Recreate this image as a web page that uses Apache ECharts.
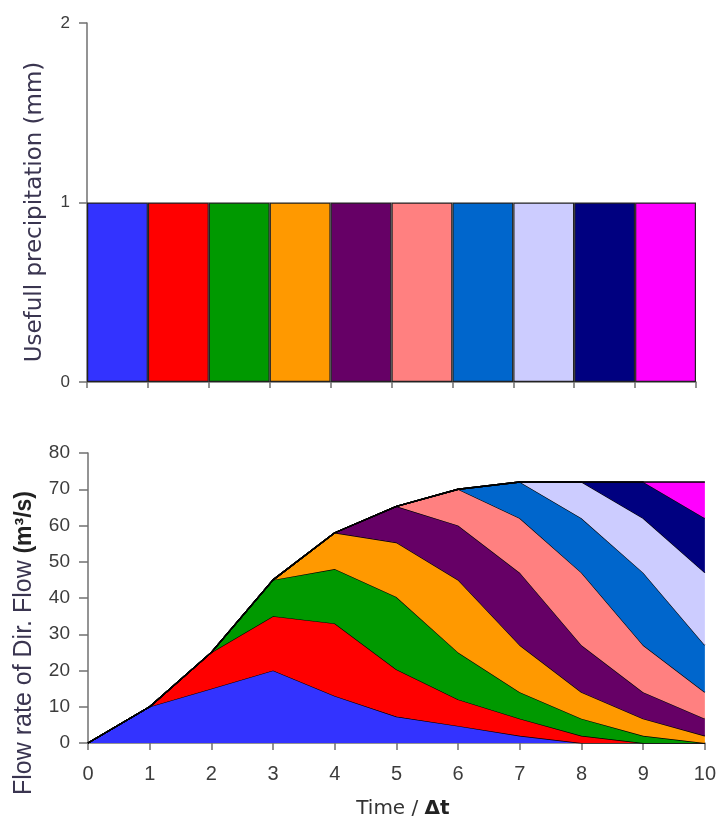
<!DOCTYPE html>
<html>
<head>
<meta charset="utf-8">
<script src="https://cdn.jsdelivr.net/npm/echarts@6/dist/echarts.min.js"></script>
<style>
html,body{margin:0;padding:0;background:#fff;}
#chart{width:719px;height:820px;}
</style>
</head>
<body>
<div id="chart"></div>
<script>
// ---- data ----
const rainCategories = ['1','2','3','4','5','6','7','8','9','10'];
const rainValues = [1,1,1,1,1,1,1,1,1,1];
const colors = ['#3333FF','#FF0000','#009900','#FF9900','#660066','#FF8080','#0066CC','#CCCCFF','#000080','#FF00FF'];
const timeLabels = ['0','1','2','3','4','5','6','7','8','9','10'];
const flow1  = [0,10,15,20,13,7.3,4.7,2,0,0,0];
const flow2  = [0,0,10,15,20,13,7.3,4.7,2,0,0];
const flow3  = [0,0,0,10,15,20,13,7.3,4.7,2,0];
const flow4  = [0,0,0,0,10,15,20,13,7.3,4.7,2];
const flow5  = [0,0,0,0,0,10,15,20,13,7.3,4.7];
const flow6  = [0,0,0,0,0,0,10,15,20,13,7.3];
const flow7  = [0,0,0,0,0,0,0,10,15,20,13];
const flow8  = [0,0,0,0,0,0,0,0,10,15,20];
const flow9  = [0,0,0,0,0,0,0,0,0,10,15];
const flow10 = [0,0,0,0,0,0,0,0,0,0,10];
const flows = [flow1,flow2,flow3,flow4,flow5,flow6,flow7,flow8,flow9,flow10];

const axisGray = '#707070';
const labelGray = '#3c3c3c';

const chart = echarts.init(document.getElementById('chart'));

const areaSeries = flows.map((f, i) => ({
  type: 'line',
  xAxisIndex: 1,
  yAxisIndex: 1,
  stack: 'flow',
  data: f,
  symbol: 'none',
  smooth: false,
  lineStyle: { color: '#000', width: 1.3 },
  areaStyle: { color: colors[i], opacity: 1 },
  silent: true,
  z: 2 + i
}));

chart.setOption({
  animation: false,
  backgroundColor: '#fff',
  grid: [
    { left: 87, top: 23, width: 609, height: 359 },
    { left: 88, top: 453, width: 620, height: 290 }
  ],
  xAxis: [
    {
      gridIndex: 0,
      type: 'category',
      data: rainCategories,
      boundaryGap: true,
      axisLine: { lineStyle: { color: axisGray, width: 1.5 } },
      axisTick: { show: true, length: 6, lineStyle: { color: axisGray, width: 1.5 } },
      axisLabel: { show: false },
      splitLine: { show: false }
    },
    {
      gridIndex: 1,
      type: 'category',
      data: timeLabels,
      boundaryGap: false,
      axisLine: { lineStyle: { color: axisGray, width: 1.5 } },
      axisTick: { show: true, length: 7, lineStyle: { color: axisGray, width: 1.5 } },
      axisLabel: { color: labelGray, fontFamily: 'Liberation Sans', fontSize: 20, margin: 21 },
      splitLine: { show: false },
      name: 'Time / {b|\u0394t}',
      nameLocation: 'middle',
      nameGap: 56,
      nameTextStyle: {
        color: '#333', fontFamily: 'DejaVu Sans', fontSize: 20,
        padding: [0, 0, 0, 13],
        rich: { b: { fontFamily: 'DejaVu Sans', fontSize: 20, fontWeight: 'bold', color: '#222' } }
      }
    }
  ],
  yAxis: [
    {
      gridIndex: 0,
      type: 'value',
      min: 0, max: 2, interval: 1,
      axisLine: { show: true, lineStyle: { color: axisGray, width: 1.5 } },
      axisTick: { show: true, length: 8, lineStyle: { color: axisGray, width: 1.5 } },
      axisLabel: { color: labelGray, fontFamily: 'Liberation Sans', fontSize: 17, margin: 17 },
      splitLine: { show: false },
      name: 'Usefull precipitation (mm)',
      nameLocation: 'middle',
      nameGap: 40,
      nameTextStyle: { color: '#3a3550', fontFamily: 'DejaVu Sans', fontSize: 23, padding: [0, 19, 0, 0] }
    },
    {
      gridIndex: 1,
      type: 'value',
      min: 0, max: 80, interval: 10,
      axisLine: { show: true, lineStyle: { color: axisGray, width: 1.5 } },
      axisTick: { show: true, length: 9, lineStyle: { color: axisGray, width: 1.5 } },
      axisLabel: { color: labelGray, fontFamily: 'Liberation Sans', fontSize: 19, margin: 18 },
      splitLine: { show: false },
      name: '{a|Flow rate of Dir. Flow}  {b|(m\u00b3/s)}',
      nameLocation: 'middle',
      nameGap: 51,
      nameTextStyle: {
        padding: [0, 90, 0, 0],
        rich: {
          a: { color: '#3a3550', fontFamily: 'Liberation Sans', fontSize: 25 },
          b: { color: '#222', fontFamily: 'Liberation Sans', fontSize: 23, fontWeight: 'bold' }
        }
      }
    }
  ],
  series: [
    {
      type: 'bar',
      xAxisIndex: 0,
      yAxisIndex: 0,
      barCategoryGap: '0%',
      data: rainValues.map((v, i) => ({ value: v, itemStyle: { color: colors[i] } })),
      itemStyle: { borderColor: '#222', borderWidth: 1.2 },
      silent: true
    }
  ].concat(areaSeries)
});
</script>
</body>
</html>
